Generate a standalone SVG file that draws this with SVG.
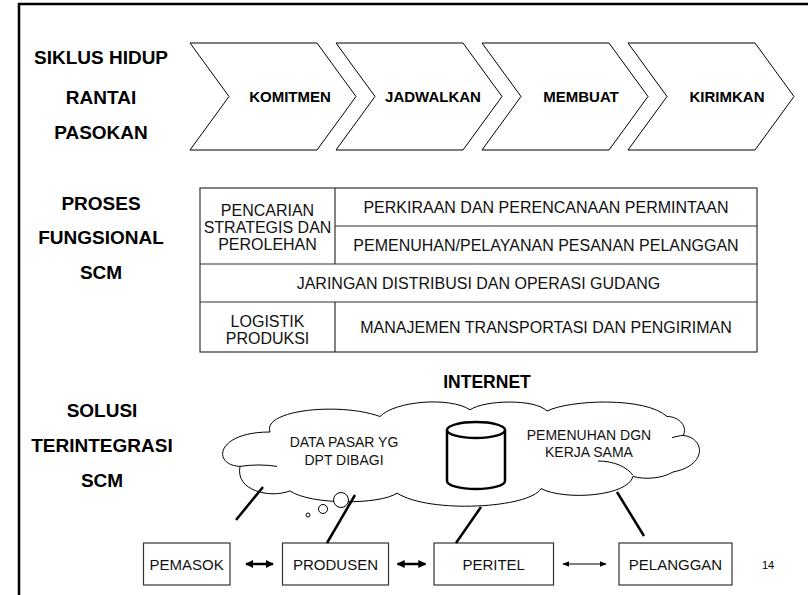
<svg xmlns="http://www.w3.org/2000/svg" width="808" height="595" viewBox="0 0 808 595">
<defs>
<style>
.t{font-family:"Liberation Sans",Arial,sans-serif;fill:#000}
.h{font-weight:bold;font-size:19px;text-anchor:middle}
.cv{font-weight:bold;font-size:15px;text-anchor:middle}
.r{font-size:16px;text-anchor:middle;fill:#111}
.bx{font-size:15px;text-anchor:middle;fill:#111}
.c{font-size:14px;text-anchor:middle;fill:#111}
.shape{fill:#fff;stroke:#000;stroke-width:1}
.box{fill:#fff;stroke:#333;stroke-width:1.2}
.thick{stroke:#000;stroke-width:2.5;fill:none}
.thin{stroke:#000;stroke-width:1.2;fill:none}
</style>
<marker id="ah" viewBox="0 0 10 10" refX="9" refY="5" markerWidth="3.2" markerHeight="3.2" orient="auto-start-reverse"><path d="M0,0 L10,5 L0,10 z" fill="#000"/></marker>
<marker id="ahs" viewBox="0 0 10 10" refX="9" refY="5" markerWidth="6" markerHeight="6" orient="auto-start-reverse"><path d="M0,1 L10,5 L0,9 z" fill="#000"/></marker>
</defs>
<rect width="808" height="595" fill="#fff"/>
<path d="M19,595 V4 H808" fill="none" stroke="#000" stroke-width="2.5"/>

<g id="label-siklus" class="t h">
<text x="101" y="64">SIKLUS HIDUP</text>
<text x="101" y="104">RANTAI</text>
<text x="101" y="139">PASOKAN</text>
</g>

<g id="chevron-komitmen">
<path class="shape" d="M190,43 H317 L356,96.5 L317,150 H190 L229,96.5 Z"/>
<text class="t cv" x="290" y="101.5">KOMITMEN</text>
</g>
<g id="chevron-jadwalkan">
<path class="shape" d="M336,43 H463 L502,96.5 L463,150 H336 L375,96.5 Z"/>
<text class="t cv" x="433" y="101.5">JADWALKAN</text>
</g>
<g id="chevron-membuat">
<path class="shape" d="M482,43 H609 L648,96.5 L609,150 H482 L521,96.5 Z"/>
<text class="t cv" x="581" y="101.5">MEMBUAT</text>
</g>
<g id="chevron-kirimkan">
<path class="shape" d="M628,43 H755 L794,96.5 L755,150 H628 L667,96.5 Z"/>
<text class="t cv" x="727" y="101.5">KIRIMKAN</text>
</g>

<g id="label-proses" class="t h">
<text x="101" y="210">PROSES</text>
<text x="101" y="244">FUNGSIONAL</text>
<text x="101" y="279">SCM</text>
</g>

<g id="table-proses">
<rect x="200" y="188" width="557" height="164" fill="#fff" stroke="#333" stroke-width="1.2"/>
<path d="M335,226 H757 M200,264 H757 M200,302 H757 M335,188 V264 M335,302 V352" stroke="#333" stroke-width="1.2" fill="none"/>
<g class="t r">
<text x="267.5" y="216">PENCARIAN</text>
<text x="267.5" y="233">STRATEGIS DAN</text>
<text x="267.5" y="250">PEROLEHAN</text>
<text x="546" y="213">PERKIRAAN DAN PERENCANAAN PERMINTAAN</text>
<text x="546" y="251">PEMENUHAN/PELAYANAN PESANAN PELANGGAN</text>
<text x="478.5" y="289">JARINGAN DISTRIBUSI DAN OPERASI GUDANG</text>
<text x="267.5" y="327">LOGISTIK</text>
<text x="267.5" y="344">PRODUKSI</text>
<text x="546" y="333">MANAJEMEN TRANSPORTASI DAN PENGIRIMAN</text>
</g>
</g>

<g id="label-solusi" class="t h">
<text x="102" y="417">SOLUSI</text>
<text x="102" y="452">TERINTEGRASI</text>
<text x="102" y="487">SCM</text>
</g>

<g id="internet-cloud">
<text class="t h" style="font-size:17.5px" x="487" y="388">INTERNET</text>
<path class="shape" d="M240,466.4 C212,465.3 215,432 270,432 C262,409.8 340,402 380,416.5 C395,400.9 450,396.5 470,409.8 C485,399.8 535,398.7 547,411 C570,399.8 645,396.5 667,416.5 C680,416.5 688,427.6 683,435.4 C705,437.6 708,465.3 673,472 C662,478.6 645,479.8 633,476.4 C628,496.4 565,500.8 541,488.6 C530,508 430,514 397,493.1 C380,505 310,505 290,490.9 C270,498.6 235,490.9 240,466.4 Z"/>
<path class="thin" style="stroke-width:1" d="M240,466.4 C252,464.5 266,464.5 277,466.4 M598,461 C614,461 627,467 633,475.3 M672,437.6 C676,436.6 680,435.6 683,435.4"/>
<text class="t c" x="344" y="447">DATA PASAR YG</text>
<text class="t c" x="344" y="465">DPT DIBAGI</text>
<text class="t c" x="589" y="440">PEMENUHAN DGN</text>
<text class="t c" x="589" y="457">KERJA SAMA</text>
</g>

<g id="database">
<path d="M447,430 V481 A29,8 0 0 0 505,481 V430" fill="#fff" stroke="#000" stroke-width="2.5"/>
<ellipse cx="476" cy="430" rx="29" ry="8" fill="#fff" stroke="#000" stroke-width="2.5"/>
</g>

<g id="thought-bubbles" fill="#fff" stroke="#000" stroke-width="1">
<circle cx="308" cy="515" r="2"/>
<circle cx="323" cy="509" r="4.5"/>
<circle cx="341" cy="500" r="7.5"/>
</g>

<g id="node-pemasok">
<rect class="box" x="143.5" y="543" width="86.5" height="42"/>
<text class="t bx" x="186.7" y="569.5">PEMASOK</text>
</g>
<g id="node-produsen">
<rect class="box" x="282.5" y="543" width="106" height="42"/>
<text class="t bx" x="335.5" y="569.5">PRODUSEN</text>
</g>
<g id="node-peritel">
<rect class="box" x="434" y="543" width="119.5" height="42"/>
<text class="t bx" x="493.7" y="569.5">PERITEL</text>
</g>
<g id="node-pelanggan">
<rect class="box" x="619" y="543" width="113" height="42"/>
<text class="t bx" x="675.5" y="569.5">PELANGGAN</text>
</g>

<g id="connectors">
<path class="thick" d="M263,487 L236,520"/>
<path class="thick" d="M355,495 L327,543"/>
<path class="thick" d="M481,507 L456,543"/>
<path class="thick" d="M617,492 L644,536"/>
<path class="thick" d="M246,564 H273" marker-start="url(#ah)" marker-end="url(#ah)"/>
<path class="thick" d="M397.5,564 H425.5" marker-start="url(#ah)" marker-end="url(#ah)"/>
<path class="thin" d="M563,564 H606" marker-start="url(#ahs)" marker-end="url(#ahs)"/>
</g>

<text class="t" x="768" y="569" font-size="11" text-anchor="middle">14</text>
</svg>
